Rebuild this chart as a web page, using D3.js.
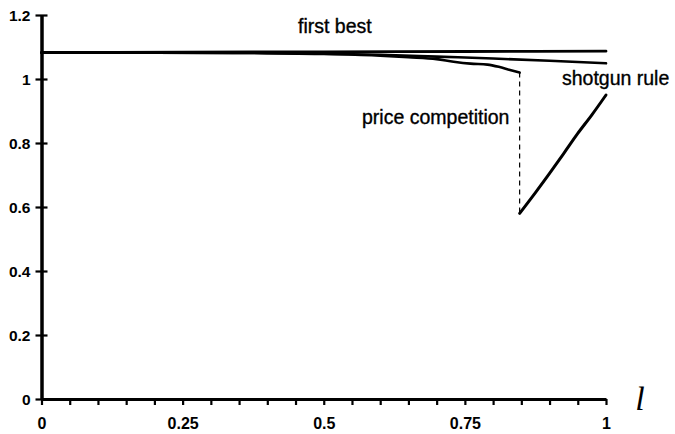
<!DOCTYPE html>
<html>
<head>
<meta charset="utf-8">
<script src="https://cdn.jsdelivr.net/npm/d3@7"></script>
<style>
  html, body { margin: 0; padding: 0; background: #fff; }
  svg { display: block; }
  text { font-family: "Liberation Sans", Arial, Helvetica, sans-serif; fill: #000; }
</style>
</head>
<body>
<svg id="chart" width="675" height="434"></svg>
<script>
// ---- data ----
const firstBestL = [0, 0.25, 0.5, 0.75, 1];
const firstBestV = [1.083, 1.084, 1.085, 1.086, 1.087];

const shotgunL = [0, 0.2, 0.4, 0.5, 0.6, 0.7, 0.8, 0.9, 1];
const shotgunV = [1.082, 1.082, 1.081, 1.079, 1.076, 1.07, 1.064, 1.057, 1.049];

const priceUpperL = [0, 0.2, 0.4, 0.5, 0.6, 0.65, 0.7, 0.73, 0.76, 0.79, 0.81, 0.83, 0.847];
const priceUpperV = [1.082, 1.082, 1.081, 1.078, 1.073, 1.068, 1.062, 1.054, 1.048, 1.045, 1.038, 1.028, 1.02];

const priceLowerL = [0.847, 0.875, 0.9, 0.925, 0.95, 0.975, 1];
const priceLowerV = [0.58, 0.645, 0.705, 0.767, 0.83, 0.888, 0.95];

const jumpL = 0.847;
const jumpFrom = 1.02;
const jumpTo = 0.58;

const xTickValues = [0, 0.05, 0.1, 0.15, 0.2, 0.25, 0.3, 0.35, 0.4, 0.45, 0.5, 0.55, 0.6, 0.65, 0.7, 0.75, 0.8, 0.85, 0.9, 0.95, 1];
const xTickLabels = {0: "0", 0.25: "0.25", 0.5: "0.5", 0.75: "0.75", 1: "1"};
const yTickValues = [0, 0.2, 0.4, 0.6, 0.8, 1, 1.2];
const yTickLabels = ["0", "0.2", "0.4", "0.6", "0.8", "1", "1.2"];

const labels = [
  {text: "first best", l: 0.4544, v: 1.144},
  {text: "shotgun rule", l: 0.922, v: 0.981},
  {text: "price competition", l: 0.5678, v: 0.859}
];

// ---- drawing ----
const svg = d3.select("#chart");
const x = d3.scaleLinear().domain([0, 1]).range([41.5, 606]);
const y = d3.scaleLinear().domain([0, 1.2]).range([399, 15]);

// x axis
const xAxis = d3.axisBottom(x)
  .tickValues(xTickValues)
  .tickSize(6)
  .tickSizeOuter(0)
  .tickFormat(d => {
    const k = Object.keys(xTickLabels).find(key => Math.abs(+key - d) < 1e-9);
    return k !== undefined ? xTickLabels[k] : "";
  });
const gx = svg.append("g").attr("transform", `translate(0,${y(0)})`).call(xAxis);
gx.select(".domain").attr("stroke", "#000").attr("stroke-width", 3);
gx.selectAll(".tick line").attr("stroke", "#000").attr("stroke-width", 2.2);
gx.selectAll(".tick text")
  .attr("y", 30).attr("dy", 0)
  .style("font-size", "16px").style("font-weight", "bold");

// y axis
const yAxis = d3.axisLeft(y)
  .tickValues(yTickValues)
  .tickSize(6)
  .tickSizeOuter(0)
  .tickFormat((d, i) => yTickLabels[i]);
const gy = svg.append("g").attr("transform", `translate(${x(0)},0)`).call(yAxis);
gy.select(".domain").attr("stroke", "#000").attr("stroke-width", 3.5);
gy.selectAll(".tick line").attr("stroke", "#000").attr("stroke-width", 2.2).attr("x1", 6).attr("x2", -6);
gy.selectAll(".tick text")
  .attr("x", -11).attr("dy", "0.36em")
  .style("font-size", "15.5px").style("font-weight", "bold");

// lines
const line = d3.line().x(d => x(d[0])).y(d => y(d[1])).curve(d3.curveMonotoneX);
function draw(ls, vs, w) {
  svg.append("path")
    .datum(ls.map((l, i) => [l, vs[i]]))
    .attr("d", line)
    .attr("fill", "none")
    .attr("stroke", "#000")
    .attr("stroke-width", w)
    .attr("stroke-linecap", "round");
}
draw(firstBestL, firstBestV, 2.8);
draw(shotgunL, shotgunV, 2.6);
draw(priceUpperL, priceUpperV, 2.6);
draw(priceLowerL, priceLowerV, 3);

// dashed jump
svg.append("line")
  .attr("x1", x(jumpL)).attr("x2", x(jumpL))
  .attr("y1", y(jumpFrom)).attr("y2", y(jumpTo))
  .attr("stroke", "#000").attr("stroke-width", 1.2)
  .attr("stroke-dasharray", "5,4");

// annotations
svg.selectAll("text.lab").data(labels).enter().append("text")
  .attr("class", "lab")
  .attr("x", d => x(d.l))
  .attr("y", d => y(d.v))
  .attr("text-anchor", "start")
  .style("font-size", "19.5px")
  .style("stroke", "#000")
  .style("stroke-width", "0.35px")
  .text(d => d.text);

// axis symbol
svg.append("text")
  .attr("x", 640).attr("y", 410)
  .attr("text-anchor", "middle")
  .style("font-family", "'Liberation Serif', 'DejaVu Serif', serif")
  .style("font-style", "italic")
  .style("font-size", "34px")
  .text("l");
</script>
</body>
</html>
